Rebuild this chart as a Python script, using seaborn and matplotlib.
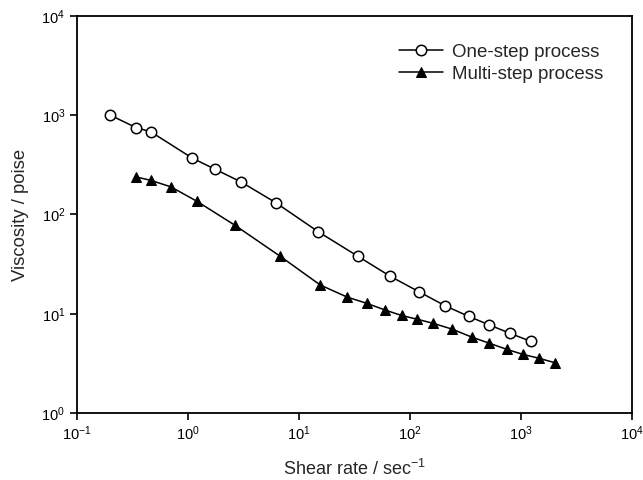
import pandas as pd
import seaborn as sns
import matplotlib
matplotlib.use("Agg")
import matplotlib.pyplot as plt

# data
one_rate = [0.20, 0.34, 0.46, 1.09, 1.76, 3.02, 6.2, 14.9, 33.8, 66.5, 121, 208, 338, 519, 796, 1222]
one_visc = [1000, 750, 683, 370, 285, 212, 131, 67, 38, 23.8, 16.6, 12.0, 9.4, 7.7, 6.35, 5.27]

multi_rate = [0.34, 0.46, 0.70, 1.2, 2.64, 6.75, 15.5, 27.2, 41, 59.6, 84, 116, 162, 239, 362, 519, 743, 1035, 1462, 2038]
multi_visc = [239, 221, 190, 136, 78, 38, 19.5, 14.7, 12.7, 10.9, 9.6, 8.8, 8.0, 7.0, 5.8, 5.04, 4.38, 3.9, 3.55, 3.2]

x_ticks = [0.1, 1, 10, 100, 1000, 10000]
x_ticklabels = ["$10^{-1}$", "$10^{0}$", "$10^{1}$", "$10^{2}$", "$10^{3}$", "$10^{4}$"]
y_ticks = [1, 10, 100, 1000, 10000]
y_ticklabels = ["$10^{0}$", "$10^{1}$", "$10^{2}$", "$10^{3}$", "$10^{4}$"]

one = pd.DataFrame({"rate": one_rate, "visc": one_visc})
multi = pd.DataFrame({"rate": multi_rate, "visc": multi_visc})

sns.set_style("ticks")
plt.rcParams["font.family"] = ["Liberation Sans", "DejaVu Sans"]
plt.rcParams["mathtext.fontset"] = "custom"
plt.rcParams["mathtext.rm"] = "Liberation Sans"
plt.rcParams["mathtext.it"] = "Liberation Sans"

fig = plt.figure(figsize=(6.43, 4.8), dpi=100)
ax = fig.add_axes([0.1198, 0.1396, 0.8632, 0.8271])

sns.lineplot(x="rate", y="visc", data=one, ax=ax, color="black", lw=1.1,
             marker="o", markersize=7.5, markerfacecolor="white",
             markeredgecolor="black", markeredgewidth=1.1, label="One-step process")
sns.lineplot(x="rate", y="visc", data=multi, ax=ax, color="black", lw=1.1,
             marker="^", markersize=7.5, markerfacecolor="black",
             markeredgecolor="black", label="Multi-step process")

ax.set_xscale("log")
ax.set_yscale("log")
ax.set_xlim(0.1, 10000)
ax.set_ylim(1, 10000)
ax.set_xticks(x_ticks)
ax.set_xticklabels(x_ticklabels)
ax.set_yticks(y_ticks)
ax.set_yticklabels(y_ticklabels)
ax.minorticks_off()
ax.tick_params(direction="out", length=5, width=1.2, labelsize=10.5, colors="black")
for s in ax.spines.values():
    s.set_visible(True)
    s.set_linewidth(1.3)
    s.set_color("black")

ax.set_xlabel("Shear rate / sec$^{-1}$", fontsize=13, labelpad=11)
ax.set_ylabel("Viscosity / poise", fontsize=13.3, labelpad=9)

ax.legend(loc="upper left", frameon=False, fontsize=13.5, handlelength=2.35,
          handletextpad=0.5, labelspacing=0.26, borderpad=0, borderaxespad=0,
          bbox_to_anchor=(0.580, 0.931))

fig.savefig("out.png", dpi=100)
